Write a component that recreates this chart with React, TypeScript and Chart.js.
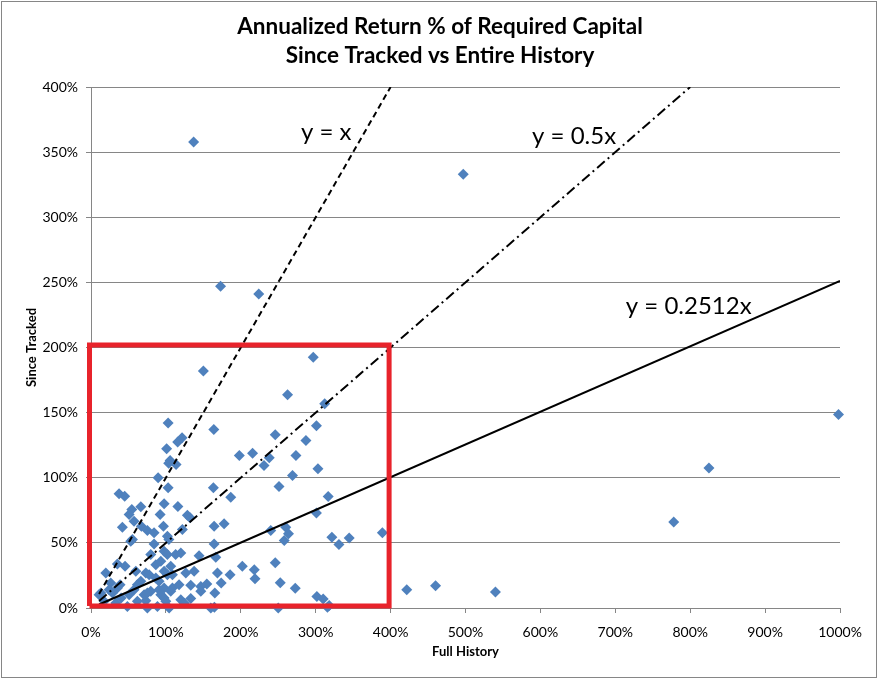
import { useEffect, useRef } from 'react';
import { Chart, registerables } from 'chart.js';

Chart.register(...registerables);

// Full History (x, %) and Since Tracked (y, %)
const fullHistory = [
  89.6, 37.5, 45, 97.6, 54.5, 66.5, 50.9, 92.3, 57.5, 67.3, 41.9, 75.3, 84.2, 96.7, 55.3, 53.1,
  84.2, 97.6, 102, 79.8, 35.2, 45.5, 59.8, 86.5, 93.2, 19.8, 73.2, 77.6, 97.6, 102, 108.7, 66.5,
  86.5, 90.9, 26.4, 35.2, 38.8, 61.9, 57.5, 79.8, 90.9, 97.6, 108.7, 10.8, 13.1, 24.2, 28.7, 40.2,
  50.9, 61.9, 73.2, 70.9, 75.3, 93.2, 97.6, 99.9, 17.5, 33.1, 48.6, 75.3, 88.7, 104.3,
  103, 163.4, 116, 186.6, 128.7, 132.3, 164.4, 177.7, 122, 102, 104, 164.4, 113, 119.9, 144.3, 166.6,
  106.5, 126.6, 137.7, 168.8, 185.7, 202, 117.6, 133.2, 146.6, 154.6, 173.8, 106.5, 146.6, 165.3,
  119.9, 133.2, 160, 164.7, 124.7,
  150, 103, 164, 121.6, 115.7, 101, 105.6, 113.6, 103.7, 198,
  296.7, 262.4, 312, 301, 246, 287, 215.7, 238, 273.6, 231, 303, 269,
  251, 316.7, 301, 240, 260, 263.7, 258, 321.6, 331, 344.7, 389, 218, 219, 246, 252.7, 272.7,
  301.6, 310, 315.7, 318, 250,
  137, 173, 224, 497, 998, 825, 778, 421.6, 460, 540,
];
const sinceTracked = [
  100, 87.7, 85.8, 80, 75.6, 77.7, 71.8, 71.8, 66.6, 62.8, 62, 59.5, 57.7, 62.8, 52.5, 51.2,
  49.2, 43.5, 41, 41, 33.8, 32, 28.2, 33.3, 35.8, 26.9, 26.9, 25.6, 28.2, 25.6, 25.6, 20.5,
  23.1, 20.5, 19.2, 15.4, 17.9, 17.9, 14.1, 12.8, 14.1, 15.4, 15.4, 10.2, 11.5, 14.1, 11.5, 7.7,
  10.2, 5.1, 5.6, 10.2, 11.5, 10.2, 7.7, 5.1, 5.1, 3.8, 1.2, 0, 1.2, 0,
  92.3, 92.3, 78, 85, 71.2, 69.2, 62.8, 64.6, 60.2, 55, 52.5, 49.2, 41, 42.3, 40.2, 38.9,
  32, 26.9, 28.2, 26.9, 25.6, 32, 17.9, 17.4, 16.6, 18.5, 19.2, 12.8, 12.8, 11.5,
  6.4, 7.2, 0, 0.6, 3.7,
  182, 142, 137, 130.7, 127.4, 122.3, 113.3, 110.2, 111.2, 117,
  192.6, 163.7, 156.8, 140, 133, 128.6, 118.9, 115.4, 117, 109.4, 106.9, 101.8,
  93.3, 85.6, 73, 59.5, 62, 57, 51.8, 54.4, 48.8, 53.7, 57.7, 29.3, 22.4, 34.7, 19.4, 15.2,
  8.8, 7, 0.6, 1.9, 0,
  357.7, 247, 241, 333, 148.6, 107.5, 66, 14, 17, 12.3,
];

// reference lines: slope, x where the line ends, label and label anchor (data coords)
const lineSlopes = [1, 0.5, 0.2512];
const lineEndX = [400, 800, 1000];
const lineLabels = ['y = x', 'y = 0.5x', 'y = 0.2512x'];
const lineLabelX = [314, 645, 798];
const lineLabelY = [365, 362, 232];

// highlighted region (red box) corners
const boxX = [-2, -2, 398, 398, -2];
const boxY = [1.5, 202, 202, 1.5, 1.5];

const xTicksMax = 1000;
const yTicksMax = 400;

const FONT = 'Lato, "Open Sans", sans-serif';

export default function App() {
  const canvasRef = useRef<HTMLCanvasElement>(null);

  useEffect(() => {
    const canvas = canvasRef.current;
    if (!canvas) return;

    const points = fullHistory.map((x, i) => ({ x, y: sinceTracked[i] }));
    const startX = Math.min(...fullHistory);
    const dashes = [[6, 4], [10, 4, 2, 4], []];

    const lineSets = lineSlopes.map((m, i) => ({
      label: lineLabels[i],
      data: [
        { x: startX, y: startX * m },
        { x: lineEndX[i], y: lineEndX[i] * m },
      ],
      showLine: true,
      borderColor: '#000000',
      borderWidth: 2,
      borderDash: dashes[i],
      pointRadius: 0,
      order: 1,
    }));

    const decor = {
      id: 'decor',
      afterDatasetsDraw(chart: any) {
        const { ctx, scales } = chart;
        ctx.save();
        ctx.fillStyle = '#000';
        ctx.textAlign = 'center';
        ctx.textBaseline = 'middle';
        ctx.font = `24px ${FONT}`;
        lineLabels.forEach((t, i) => {
          ctx.fillText(t, scales.x.getPixelForValue(lineLabelX[i]), scales.y.getPixelForValue(lineLabelY[i]));
        });
        ctx.restore();
      },
      afterDraw(chart: any) {
        const { ctx } = chart;
        ctx.save();
        ctx.fillStyle = '#000';
        ctx.textAlign = 'center';
        ctx.textBaseline = 'middle';
        ctx.font = `bold 22.5px ${FONT}`;
        ctx.fillText('Annualized Return % of Required Capital', 440, 27);
        ctx.fillText('Since Tracked vs Entire History', 440, 56);
        ctx.strokeStyle = '#868686';
        ctx.lineWidth = 1;
        ctx.strokeRect(1.5, 1.5, 875, 676);
        ctx.restore();
      },
    };

    const chart = new Chart(canvas, {
      type: 'scatter',
      data: {
        datasets: [
          {
            label: 'box',
            data: boxX.map((x, i) => ({ x, y: boxY[i] })),
            showLine: true,
            borderColor: '#E8232B',
            borderWidth: 5,
            pointRadius: 0,
            clip: false,
            order: 0,
          },
          ...lineSets,
          {
            label: 'Strategies',
            data: points,
            pointStyle: 'rectRot',
            pointRadius: 5.5,
            pointHoverRadius: 5.5,
            backgroundColor: '#4F81BD',
            borderColor: '#4F81BD',
            borderWidth: 0,
            clip: false,
            order: 2,
          },
        ],
      },
      options: {
        responsive: true,
        maintainAspectRatio: false,
        animation: false,
        layout: { padding: { top: 87, right: 39, left: 0, bottom: 0 } },
        plugins: {
          legend: { display: false },
          tooltip: { enabled: false },
        },
        scales: {
          x: {
            type: 'linear',
            min: 0,
            max: xTicksMax,
            afterFit(scale: any) {
              scale.height = 72;
            },
            ticks: {
              stepSize: 100,
              padding: 11,
              color: '#000',
              font: { family: FONT, size: 14 },
              callback: (v: any) => v + '%',
            },
            grid: { drawOnChartArea: false, color: '#868686', tickLength: 5 },
            border: { color: '#868686' },
            title: {
              display: true,
              text: 'Full History',
              color: '#000',
              font: { family: FONT, size: 13, weight: 'bold' },
              padding: { top: 0, bottom: 20 },
            },
          },
          y: {
            type: 'linear',
            min: 0,
            max: yTicksMax,
            afterFit(scale: any) {
              scale.width = 91;
            },
            ticks: {
              stepSize: 50,
              padding: 8,
              color: '#000',
              font: { family: FONT, size: 14 },
              callback: (v: any) => v + '%',
            },
            grid: { color: '#868686', tickLength: 5 },
            border: { color: '#868686' },
            title: {
              display: true,
              text: 'Since Tracked',
              color: '#000',
              font: { family: FONT, size: 13, weight: 'bold' },
              padding: { top: 24, bottom: 0 },
            },
          },
        },
      },
      plugins: [decor],
    });

    return () => {
      chart.destroy();
    };
  }, []);

  return (
    <div style={{ position: 'fixed', left: 0, top: 0, width: 879, height: 680, background: '#fff' }}>
      <canvas ref={canvasRef} />
    </div>
  );
}
